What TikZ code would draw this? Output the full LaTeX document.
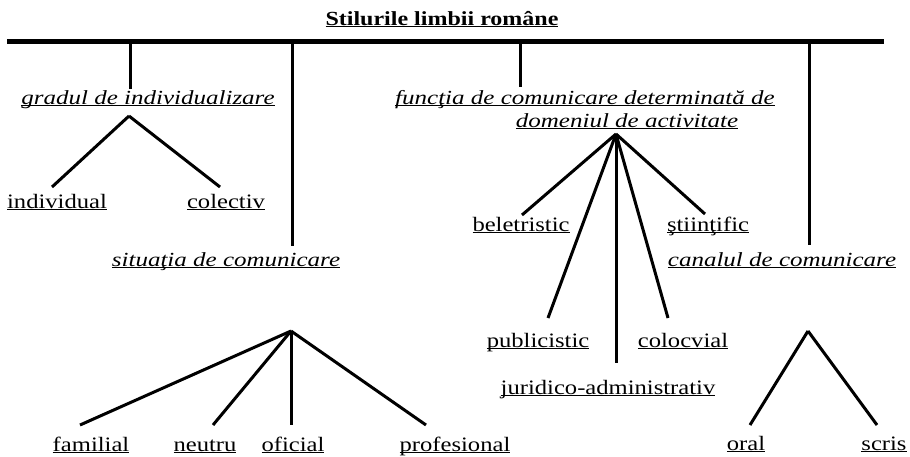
\documentclass[tikz,border=0pt]{standalone}
\usepackage{fontspec}
\setmainfont{Liberation Serif}[FakeStretch=1.2]
\newfontfamily\itfam{Liberation Serif}[FakeStretch=1.25]
\newcommand\ulin[1]{{\setbox0=\hbox{#1}\rlap{\rule[-2.4pt]{\wd0}{1pt}}\box0}}
\tikzset{
  lbl/.style={anchor=base, inner sep=0pt, font=\fontsize{20.5}{24}\selectfont},
  ital/.style={anchor=base, inner sep=0pt, font=\fontsize{20}{24}\selectfont\itfam\itshape},
  ttl/.style={anchor=base, inner sep=0pt, font=\fontsize{20}{24}\selectfont\bfseries},
  conn/.style={line width=3pt},
  bar/.style={line width=5pt},
}
\begin{document}
\begin{tikzpicture}[x=1pt,y=-1pt]
\useasboundingbox (0,0) rectangle (910,456);
% title and bar
\node[ttl] (title) at (442,25) {\ulin{Stilurile limbii române}};
\coordinate (barL) at (7,41);
\coordinate (barR) at (884,41);
\draw[bar] (barL) -- (barR);
\coordinate (b1) at (130,41);
\coordinate (b2) at (292,41);
\coordinate (b3) at (520,41);
\coordinate (b4) at (809,41);
% level 1 labels
\node[ital] (grad) at (148,104) {\ulin{gradul de individualizare}};
\node[ital] (sit) at (226,266) {\ulin{situaţia de comunicare}};
\node[ital] (func1) at (585,104) {\ulin{funcţia de comunicare determinată de}};
\node[ital] (func2) at (627,127) {\ulin{domeniul de activitate}};
\node[ital] (can) at (782,266) {\ulin{canalul de comunicare}};
\coordinate (d1) at (130,89);
\coordinate (d2) at (292,246);
\coordinate (d3) at (520,87);
\coordinate (d4) at (809,245);
\draw[conn] (b1) -- (d1);
\draw[conn] (b2) -- (d2);
\draw[conn] (b3) -- (d3);
\draw[conn] (b4) -- (d4);
% gradul
\node[lbl] (indiv) at (57,208) {\ulin{individual}};
\node[lbl] (colec) at (226,208) {\ulin{colectiv}};
\coordinate (a1) at (129,116);
\coordinate (e11) at (52,187);
\coordinate (e12) at (220,187);
\draw[conn] (a1) -- (e11);
\draw[conn] (a1) -- (e12);
% situatia
\node[lbl] (fam) at (91,451) {\ulin{familial}};
\node[lbl] (neu) at (205,451) {\ulin{neutru}};
\node[lbl] (ofi) at (293,451) {\ulin{oficial}};
\node[lbl] (prof) at (455,451) {\ulin{profesional}};
\coordinate (a2) at (291,331);
\coordinate (e21) at (80,425);
\coordinate (e22) at (213,425);
\coordinate (e23) at (291,425);
\coordinate (e24) at (426,425);
\draw[conn] (a2) -- (e21);
\draw[conn] (a2) -- (e22);
\draw[conn] (a2) -- (e23);
\draw[conn] (a2) -- (e24);
% functia
\node[lbl] (bel) at (521,231) {\ulin{beletristic}};
\node[lbl] (sti) at (708,231) {\ulin{ştiinţific}};
\node[lbl] (pub) at (538,347) {\ulin{publicistic}};
\node[lbl] (col) at (683,347) {\ulin{colocvial}};
\node[lbl] (jur) at (608,394) {\ulin{juridico-administrativ}};
\coordinate (a3) at (616,134);
\coordinate (e31) at (522,215);
\coordinate (e32) at (548,318);
\coordinate (e33) at (616,363);
\coordinate (e34) at (668,318);
\coordinate (e35) at (705,214);
\draw[conn] (a3) -- (e31);
\draw[conn] (a3) -- (e32);
\draw[conn] (a3) -- (e33);
\draw[conn] (a3) -- (e34);
\draw[conn] (a3) -- (e35);
% canalul
\node[lbl] (oral) at (746,450) {\ulin{oral}};
\node[lbl] (scris) at (884,450) {\ulin{scris}};
\coordinate (a4) at (808,331);
\coordinate (e41) at (750,425);
\coordinate (e42) at (877,425);
\draw[conn] (a4) -- (e41);
\draw[conn] (a4) -- (e42);
\end{tikzpicture}
\end{document}
